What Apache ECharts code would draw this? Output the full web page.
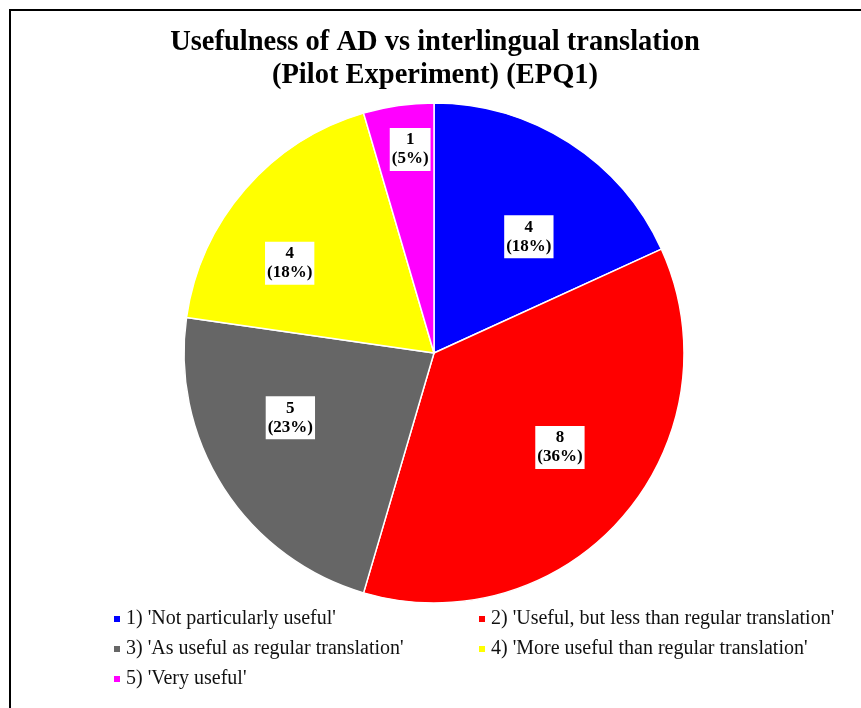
<!DOCTYPE html>
<html lang="en">
<head>
    <meta charset="UTF-8">
    <title>Usefulness of AD vs interlingual translation</title>
    <script src="https://cdn.jsdelivr.net/npm/echarts@6/dist/echarts.min.js"></script>
    <style>
        * { margin: 0; padding: 0 }
        html, body { width: 100%; height: 100%; background: #fff; }
        #main { width: 861px; height: 708px; }
    </style>
</head>
<body>
<div id="main"></div>
<script type="text/javascript">
    var categories = [
        "1) 'Not particularly useful'",
        "2) 'Useful, but less than regular translation'",
        "3) 'As useful as regular translation'",
        "4) 'More useful than regular translation'",
        "5) 'Very useful'"
    ];
    var counts = [4, 8, 5, 4, 1];
    var colors = ['#0000ff', '#ff0000', '#666666', '#ffff00', '#ff00ff'];
    // label placement: share of radius, and degrees of shift from the slice middle
    var labelDist = [0.6, 0.63, 0.63, 0.68, 0.82];
    var labelShift = [6.5, -4, 8.5, -9, 1.5];

    var pieCenter = [434, 353];
    var pieRadius = 250;
    var total = counts.reduce(function (a, b) { return a + b; }, 0);

    var myChart = echarts.init(document.getElementById('main'));

    var dataList = categories.map(function (name, i) {
        return { name: name, value: counts[i], itemStyle: { color: colors[i] } };
    });

    // middle angle of every slice, degrees clockwise from 12 o'clock
    var midAngles = [];
    var acc = 0;
    counts.forEach(function (v) {
        midAngles.push((acc + v / 2) / total * 360);
        acc += v;
    });

    var legendText = {
        fontFamily: 'Liberation Serif',
        fontSize: 20,
        color: '#111'
    };

    var option = {
        animation: false,
        title: {
            text: 'Usefulness of AD vs interlingual translation\n(Pilot Experiment) (EPQ1)',
            left: 430,
            textAlign: 'center',
            top: 21,
            textStyle: {
                fontFamily: 'Liberation Serif',
                fontWeight: 'bold',
                fontSize: 28.5,
                lineHeight: 33,
                color: '#000'
            }
        },
        graphic: [{
            type: 'rect',
            shape: { x: 10, y: 10, width: 900, height: 800 },
            style: { fill: 'none', stroke: '#000', lineWidth: 2 },
            silent: true
        }],
        legend: [{
            orient: 'vertical',
            left: 107,
            top: 604,
            itemWidth: 8,
            itemHeight: 8,
            itemGap: 10,
            icon: 'rect',
            data: [categories[0], categories[2], categories[4]],
            textStyle: legendText
        }, {
            orient: 'vertical',
            left: 472,
            top: 604,
            itemWidth: 8,
            itemHeight: 8,
            itemGap: 10,
            icon: 'rect',
            data: [categories[1], categories[3]],
            textStyle: legendText
        }],
        series: [{
            name: 'EPQ1',
            type: 'pie',
            center: pieCenter,
            radius: pieRadius,
            startAngle: 90,
            clockwise: true,
            data: dataList,
            itemStyle: { borderColor: '#fff', borderWidth: 1.5 },
            label: {
                show: true,
                position: 'inside',
                formatter: function (p) {
                    return p.value + '\n(' + Math.round(p.value / total * 100) + '%)';
                },
                fontFamily: 'Liberation Serif',
                fontWeight: 'bold',
                fontSize: 17,
                lineHeight: 19,
                color: '#000',
                backgroundColor: '#fff',
                padding: [3, 2, 2, 2]
            },
            labelLine: { show: false },
            labelLayout: function (params) {
                var i = params.dataIndex;
                var a = (midAngles[i] + labelShift[i]) * Math.PI / 180;
                var d = labelDist[i] * pieRadius;
                return {
                    x: pieCenter[0] + Math.sin(a) * d,
                    y: pieCenter[1] - Math.cos(a) * d,
                    align: 'center',
                    verticalAlign: 'middle'
                };
            },
            emphasis: { disabled: true }
        }]
    };

    myChart.setOption(option);
</script>
</body>
</html>
